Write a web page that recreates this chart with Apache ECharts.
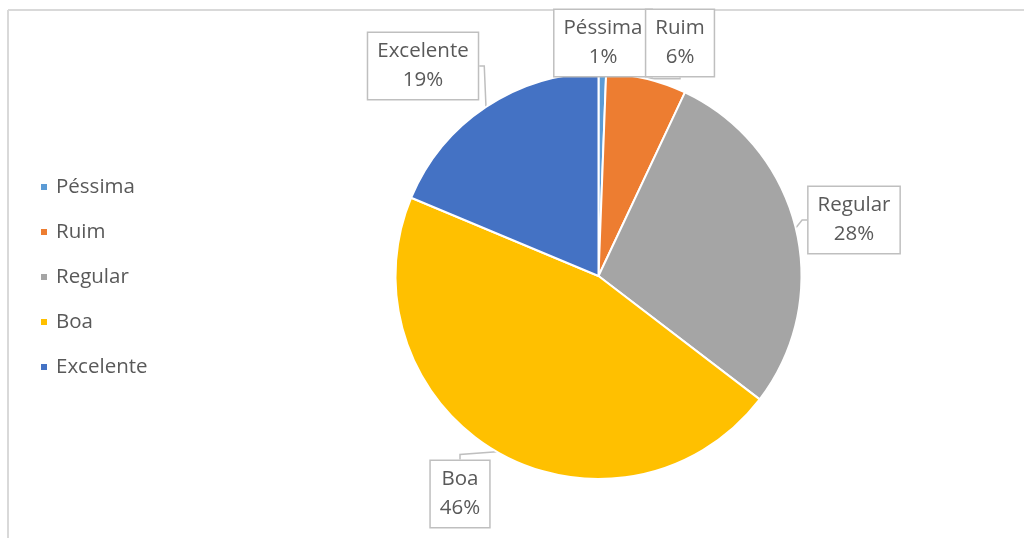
<!DOCTYPE html>
<html>
<head>
<meta charset="utf-8">
<script src="https://cdn.jsdelivr.net/npm/echarts@6/dist/echarts.min.js"></script>
<style>
html,body{margin:0;padding:0;background:#fff;}
#chart{width:1024px;height:538px;}
</style>
</head>
<body>
<div id="chart"></div>
<script>
const categories = ['Péssima', 'Ruim', 'Regular', 'Boa', 'Excelente'];
const values = [0.6, 6.4, 28.4, 45.9, 18.7];
const colors = ['#5B9BD5', '#ED7D31', '#A5A5A5', '#FFC000', '#4472C4'];

const labelCenters = [[603, 43], [680, 43], [854, 220], [460, 494], [423, 66]];

const chart = echarts.init(document.getElementById('chart'), null, {renderer: 'canvas'});
const font = "'Open Sans', 'Noto Sans', sans-serif";

chart.setOption({
  animation: false,
  backgroundColor: '#fff',
  color: colors,
  graphic: [
    {type: 'line', shape: {x1: 8, y1: 10, x2: 1024, y2: 10}, style: {stroke: '#D9D9D9', lineWidth: 2}, silent: true},
    {type: 'line', shape: {x1: 8, y1: 10, x2: 8, y2: 538}, style: {stroke: '#D9D9D9', lineWidth: 2}, silent: true}
  ],
  legend: {
    orient: 'vertical',
    left: 34,
    top: 171,
    padding: 5,
    icon: 'rect',
    itemWidth: 8,
    itemHeight: 8,
    itemGap: 23,
    textStyle: {fontFamily: font, fontSize: 20.5, color: '#595959', lineHeight: 22, padding: [0, 0, 0, 3]},
    data: categories
  },
  series: [{
    type: 'pie',
    center: [598.5, 276],
    radius: 203,
    startAngle: 90,
    clockwise: true,
    avoidLabelOverlap: false,
    itemStyle: {borderColor: '#fff', borderWidth: 2},
    label: {
      show: true,
      position: 'outside',
      formatter: function (p) { return p.name + '\n' + Math.round(p.value) + '%'; },
      fontFamily: font,
      fontSize: 20.5,
      lineHeight: 29,
      color: '#595959',
      backgroundColor: '#fff',
      borderColor: '#BFBFBF',
      borderWidth: 1.5,
      padding: [4, 9, 4, 9],
      align: 'center'
    },
    labelLine: {show: true, length: 5, length2: 5, lineStyle: {color: '#BFBFBF', width: 1.5}},
    labelLayout: function (p) {
      const c = labelCenters[p.dataIndex];
      return {x: c[0], y: c[1], align: 'center', verticalAlign: 'middle'};
    },
    emphasis: {disabled: true},
    data: categories.map((n, i) => ({name: n, value: values[i]}))
  }]
});
</script>
</body>
</html>
